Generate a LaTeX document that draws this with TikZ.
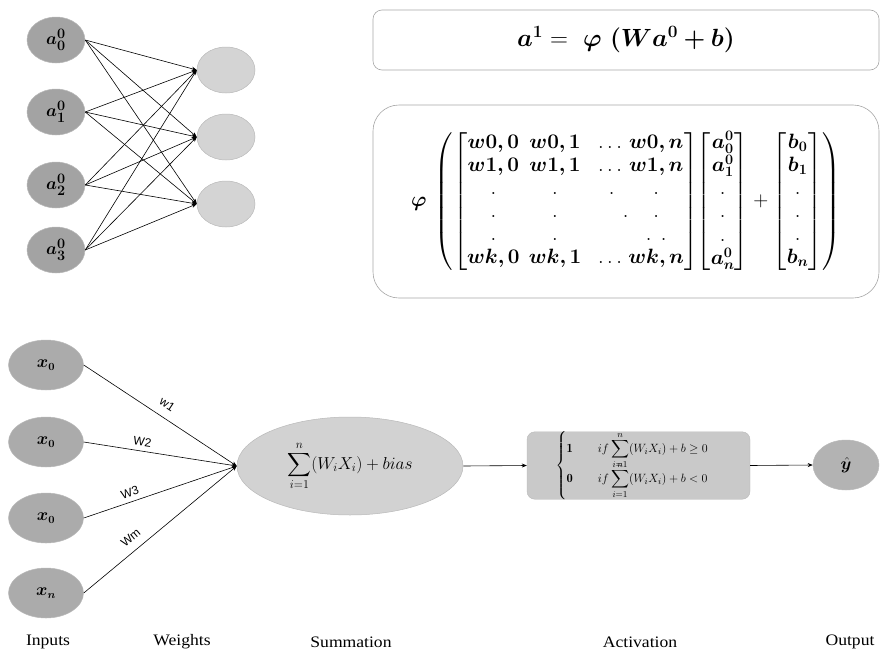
\documentclass[tikz,border=0pt]{standalone}
\usepackage{amsmath,amssymb,bm}
\usepackage{fontspec}
\newfontfamily\labsans{Liberation Sans}
\newfontfamily\labserif[FakeStretch=1.1]{Liberation Serif}
\usetikzlibrary{shapes.geometric,arrows.meta}
\definecolor{dnode}{HTML}{A3A3A3}
\definecolor{lnode}{HTML}{D4D4D4}
\definecolor{xnode}{HTML}{ABABAB}
\definecolor{snode}{HTML}{D2D2D2}
\definecolor{actnode}{HTML}{C9C9C9}
\definecolor{onode}{HTML}{B3B3B3}
\newcommand{\EqOne}{$\bm{a^1} =\mskip 6mu \bm{\varphi}\mskip 6mu\bm{(Wa^0 + b)}$}
\newcommand{\EqTwo}{\renewcommand{\arraystretch}{1.05}%
$\bm{\varphi}\mskip 4mu\left(\left[\begin{array}{@{}c@{\mskip 8mu}c@{\mskip 12mu}c@{}c@{}} \bm{w0,0} & \bm{w0,1} & \dots & \bm{w0,n}\\ \bm{w1,0} & \bm{w1,1} & \dots & \bm{w1,n} \\ . & . & . & . \\ . & . & \mskip 24mu. & . \\ . & . & & .\mskip 8mu. \\ \bm{wk,0} & \bm{wk,1} & \dots & \bm{wk,n} \end{array}\right]\mskip -4mu\left[\begin{array}{@{}c@{}} \bm{a_0^0}\\ \bm{a_1^0}\\ .\\ .\\ .\\ \bm{a_n^0}\end{array}\right] + \left[\begin{array}{@{}c@{}} \bm{b_0}\\ \bm{b_1}\\ .\\ .\\ .\\ \bm{b_n}\end{array}\right]\right)$}
\newcommand{\SumText}{$\displaystyle\sum_{i=1}^{n}(W_iX_i) + bias$}
\newcommand{\ActText}{$\begin{cases} \mathbf{1} \qquad if \displaystyle\sum_{i=1}^{n}(W_iX_i) + b \geq 0 \\[-7pt] \mathbf{0} \qquad if \displaystyle\sum_{i=1}^{n}(W_iX_i) + b < 0\end{cases}$}
\tikzset{
  neuron/.style={ellipse,inner sep=0pt,draw=gray!55,line width=0.5pt},
  anode/.style={neuron,fill=dnode,minimum width=58pt,minimum height=46pt,font=\fontsize{19}{22}\selectfont},
  hnode/.style={neuron,fill=lnode,minimum width=58pt,minimum height=46pt},
  xin/.style={neuron,fill=xnode,minimum width=75pt,minimum height=50pt,font=\fontsize{16}{18}\selectfont},
  conn/.style={line width=0.6pt,-{Stealth[length=5pt,width=4pt]}},
  wlab/.style={font=\labsans\fontsize{12}{13}\selectfont,inner sep=1.5pt},
  bottomlab/.style={font=\labserif\fontsize{16}{18}\selectfont},
  eqbox/.style={draw=gray!70,line width=0.6pt},
}
\begin{document}
\begin{tikzpicture}[x=1pt,y=-1pt]
\useasboundingbox (0,0) rectangle (880,653);
% top-left network
\node[anode] (a0) at (56,40) {$\bm{a_0^0}$};
\node[anode] (a1) at (56,112) {$\bm{a_1^0}$};
\node[anode] (a2) at (56,185) {$\bm{a_2^0}$};
\node[anode] (a3) at (56,250) {$\bm{a_3^0}$};
\node[hnode] (h0) at (226,70) {};
\node[hnode] (h1) at (226,137) {};
\node[hnode] (h2) at (226,204) {};
\draw[conn] (a0.east) -- (h0.west);
\draw[conn] (a0.east) -- (h1.west);
\draw[conn] (a0.east) -- (h2.west);
\draw[conn] (a1.east) -- (h0.west);
\draw[conn] (a1.east) -- (h1.west);
\draw[conn] (a1.east) -- (h2.west);
\draw[conn] (a2.east) -- (h0.west);
\draw[conn] (a2.east) -- (h1.west);
\draw[conn] (a2.east) -- (h2.west);
\draw[conn] (a3.east) -- (h0.west);
\draw[conn] (a3.east) -- (h1.west);
\draw[conn] (a3.east) -- (h2.west);
% top-right formulas
\node[eqbox,rounded corners=9pt,minimum width=506pt,minimum height=60pt,font=\fontsize{24}{28}\selectfont] (eqa) at (626,40) {\EqOne};
\node[eqbox,rounded corners=26pt,minimum width=506pt,minimum height=193pt,font=\fontsize{21}{22}\selectfont] (eqb) at (626,201.5) {\EqTwo};
% bottom perceptron
\node[xin] (x0) at (46,365) {$\bm{x_0}$};
\node[xin] (x1) at (46,442) {$\bm{x_0}$};
\node[xin] (x2) at (46,518) {$\bm{x_0}$};
\node[xin] (x3) at (46,593) {$\bm{x_n}$};
\node[neuron,fill=snode,minimum width=226pt,minimum height=98pt,font=\fontsize{16.5}{18}\selectfont] (sum) at (350,466) {\SumText};
\draw[conn] (x0.east) -- node[wlab,sloped,above=7pt,pos=0.5] {w1} (sum.west);
\draw[conn] (x1.east) -- node[wlab,sloped,above=3pt,pos=0.375] {W2} (sum.west);
\draw[conn] (x2.east) -- node[wlab,sloped,above=3pt,pos=0.32] {W3} (sum.west);
\draw[conn] (x3.east) -- node[wlab,sloped,above=7pt,pos=0.36] {Wm} (sum.west);
\node[draw=gray!55,fill=actnode,rounded corners=8pt,minimum width=223pt,minimum height=65pt,inner sep=0pt,font=\fontsize{12.5}{13}\selectfont] (act) at (638.5,465.5) {\ActText};
\node[neuron,fill=onode,minimum width=66pt,minimum height=50pt,font=\fontsize{17}{19}\selectfont] (out) at (846,465) {$\hat{\bm{y}}$};
\draw[conn] (sum.east) -- (act.west);
\draw[conn] (act.east) -- (out.west);
% bottom labels
\node[bottomlab] (l1) at (48,642) {Inputs};
\node[bottomlab] (l2) at (182,642) {Weights};
\node[bottomlab] (l3) at (351,642) {Summation};
\node[bottomlab] (l4) at (640,642) {Activation};
\node[bottomlab] (l5) at (850,642) {Output};
\end{tikzpicture}
\end{document}
